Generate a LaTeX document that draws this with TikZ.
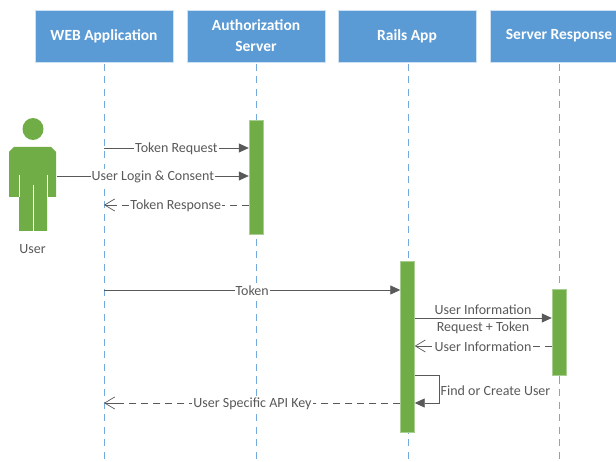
\documentclass[tikz,border=0pt]{standalone}
\usepackage{fontspec}
\setmainfont{Carlito}
\usetikzlibrary{arrows.meta}
\definecolor{boxblue}{HTML}{5B9BD5}
\definecolor{barrgreen}{HTML}{70AD47}
\definecolor{msg}{HTML}{595959}
\definecolor{txt}{HTML}{595959}
\tikzset{
  x=1pt,y=-1pt,
  head/.style={draw=boxblue!30,line width=0.6pt,fill=boxblue,text=white,font=\fontsize{15.5}{21}\selectfont\bfseries,minimum width=138pt,minimum height=52pt,inner sep=0pt,align=center},
  lifeline/.style={draw=boxblue!85,line width=0.9pt,dash pattern=on 7pt off 5.5pt},
  actbar/.style={fill=barrgreen,draw=barrgreen!60,line width=0.4pt,minimum width=14pt,inner sep=0pt},
  syncmsg/.style={draw=msg,line width=0.8pt,-{Triangle[length=10pt,width=9pt,fill=msg]}},
  retmsg/.style={draw=msg,line width=0.8pt,dash pattern=on 7pt off 5pt},
  rettip/.style={draw=msg,line width=0.7pt,solid,-{Straight Barb[length=10pt,width=12pt,line width=0.7pt]}},
  lab/.style={text=txt,font=\fontsize{14}{19}\selectfont,fill=white,inner sep=1pt,yshift=-0.5pt},
  plainlab/.style={text=txt,font=\fontsize{14}{19}\selectfont,inner sep=0pt,align=center},
}
\begin{document}
\begin{tikzpicture}
\clip (0,0) rectangle (616,462);
\fill[white] (0,0) rectangle (616,462);
% headers
\node[head] (web) at (104,36) {WEB Application};
\node[head] (auth) at (256,36) {Authorization\\Server};
\node[head] (rails) at (407,36) {Rails App};
\node[head] (srv) at (559,36) {Server Response};
% lifeline ends
\coordinate (webend) at (104,462);
\coordinate (authend) at (256,462);
\coordinate (railsend) at (408,462);
\coordinate (srvend) at (559,462);
\draw[lifeline] (104,64) -- (webend);
\draw[lifeline] (256,64) -- (authend);
\draw[lifeline] (408,64) -- (railsend);
\draw[lifeline] (559,64) -- (srvend);
% activation bars
\node[actbar,minimum height=114pt] (authbar) at (256,177) {};
\node[actbar,minimum height=171pt] (railsbar) at (407.5,346.5) {};
\node[actbar,minimum height=86pt] (srvbar) at (559,332.5) {};
% user
\fill[barrgreen] (33,129) ellipse (10.5 and 11);
\fill[barrgreen] (14,147) -- (51,147) -- (56,152) -- (56,197) -- (47,197) -- (47,231) -- (19,231) -- (19,197) -- (9,197) -- (9,152) -- cycle;
\draw[white,line width=0.7pt] (19,175) -- (19,197) (47,175) -- (47,197) (33,185) -- (33,231);
\node[plainlab] (user) at (32.5,249) {User};
\coordinate (userr) at (57,176);
% anchors on lifeline
\coordinate (w1) at (104,148);
\coordinate (w3) at (104,205);
\coordinate (w4) at (104,290);
\coordinate (w5) at (104,403);
% messages
\draw[syncmsg] (w1) -- (authbar.west |- w1) node[lab,pos=0.5] {Token Request};
\draw[syncmsg] (userr) -- (authbar.west |- userr) node[lab,pos=0.5] {User Login \& Consent};
\draw[retmsg] (authbar.west |- w3) -- ([xshift=12pt]w3) node[lab,pos=0.55] {Token Response};
\draw[rettip] ([xshift=13pt]w3) -- (w3);
\draw[syncmsg] (w4) -- (railsbar.west |- w4) node[lab,pos=0.5] {Token};
\coordinate (r1) at (railsbar.east |- 0,318);
\coordinate (r2) at (railsbar.east |- 0,346);
\coordinate (r3) at (railsbar.east |- 0,375);
\coordinate (r4) at (railsbar.east |- 0,403);
\draw[syncmsg] (r1) -- (srvbar.west |- r1);
\draw[retmsg] (srvbar.west |- r2) -- ([xshift=12pt]r2);
\draw[rettip] ([xshift=13pt]r2) -- (r2);
\node[lab] (m1) at (483,309) {User Information};
\node[plainlab] (m2) at (483,327.5) {Request + Token};
\node[lab] (m3) at (483,346) {User Information};
\draw[syncmsg] (r3) -- (439.5,375) -- (439.5,403) -- (r4);
\node[plainlab,anchor=west] (m4) at (440.5,391) {Find or Create User};
\draw[retmsg] (railsbar.west |- r4) -- ([xshift=12pt]w5) node[lab,pos=0.52] {User Specific API Key};
\draw[rettip] ([xshift=13pt]w5) -- (w5);
\end{tikzpicture}
\end{document}
